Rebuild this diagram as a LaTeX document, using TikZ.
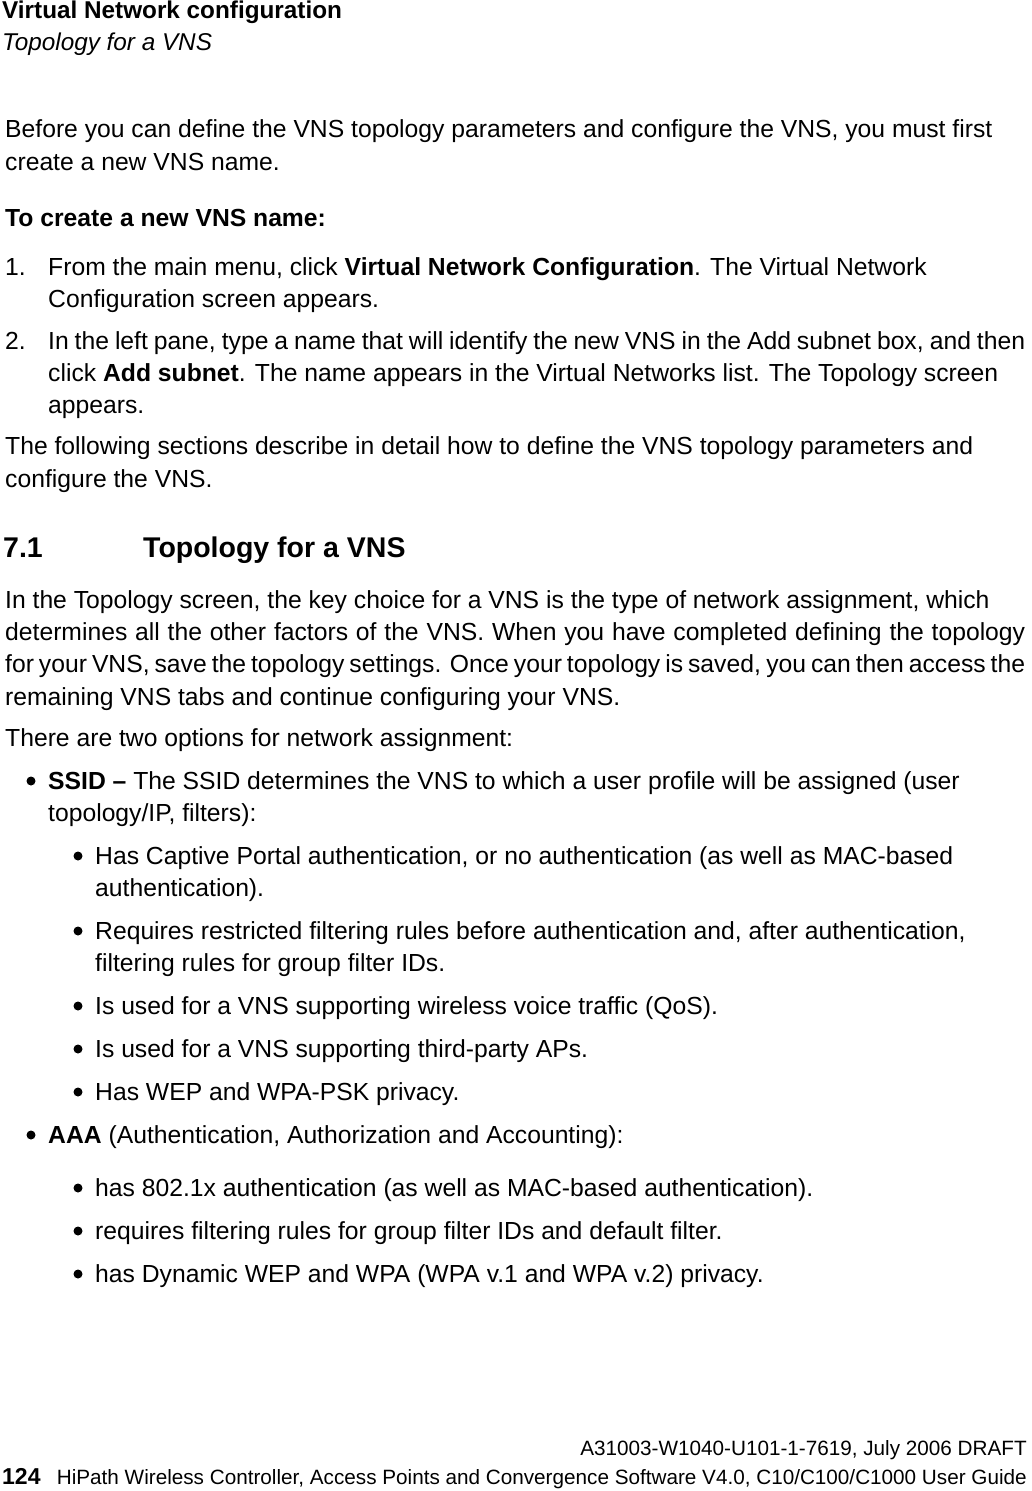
\documentclass[tikz,border=0pt]{standalone}
\usepackage{fontspec}
\setmainfont{Liberation Sans}
\newcommand\tightline[2]{\hbox to #1{\spaceskip=0.278em plus 0.1em minus 0.2em\relax #2}}
\begin{document}
\begin{tikzpicture}[x=1pt,y=-1pt,
 t/.style={anchor=base west,inner sep=0pt,font=\fontsize{24.7}{28}\selectfont},
 f/.style={anchor=base east,inner sep=0pt,font=\fontsize{20.7}{24}\selectfont},
 bul/.style={circle,fill=black,inner sep=0pt,minimum size=9pt}]
\useasboundingbox (0,0) rectangle (1031,1491);
\node[t,font=\bfseries\fontsize{24.3}{28}\selectfont] (h1) at (2,18) {Virtual Network configuration};
\node[t,font=\itshape\fontsize{24.3}{28}\selectfont] (h2) at (2,50) {Topology for a VNS};
\node[t] (p1) at (5,137) {Before you can define the VNS topology parameters and configure the VNS, you must first};
\node[t] (p2) at (5,170) {create a new VNS name.};
\node[t,font=\bfseries\fontsize{24.7}{28}\selectfont] (p3) at (5,226) {To create a new VNS name:};
\node[t] (n1) at (5,275) {1.};
\node[t] (n1a) at (48,275) {From the main menu, click \textbf{Virtual Network Configuration}. The Virtual Network};
\node[t] (n1b) at (48,307) {Configuration screen appears.};
\node[t] (n2) at (5,349) {2.};
\node[t] (n2a) at (48,349) {\tightline{977pt}{In the left pane, type a name that will identify the new VNS in the Add subnet box, and then}};
\node[t] (n2b) at (48,381) {click \textbf{Add subnet}. The name appears in the Virtual Networks list. The Topology screen};
\node[t] (n2c) at (48,413) {appears.};
\node[t] (q1) at (5,454) {The following sections describe in detail how to define the VNS topology parameters and};
\node[t] (q2) at (5,487) {configure the VNS.};
\node[t,font=\bfseries\fontsize{28.5}{32}\selectfont] (s1) at (3,557) {7.1};
\node[t,font=\bfseries\fontsize{28.5}{32}\selectfont] (s2) at (143,557) {Topology for a VNS};
\node[t] (r1) at (5,608) {In the Topology screen, the key choice for a VNS is the type of network assignment, which};
\node[t] (r2) at (5,640) {\tightline{1020pt}{determines all the other factors of the VNS. When you have completed defining the topology}};
\node[t] (r3) at (5,672) {\tightline{1020pt}{for your VNS, save the topology settings. Once your topology is saved, you can then access the}};
\node[t] (r4) at (5,705) {remaining VNS tabs and continue configuring your VNS.};
\node[t] (r5) at (5,746) {There are two options for network assignment:};
\node[bul] (b1) at (31,781) {};
\node[t] (b1a) at (48,789) {\textbf{SSID –} The SSID determines the VNS to which a user profile will be assigned (user};
\node[t] (b1b) at (48,821) {topology/IP, filters):};
\node[bul] (c1) at (78,856) {};
\node[t] (c1a) at (95,864) {Has Captive Portal authentication, or no authentication (as well as MAC-based};
\node[t] (c1b) at (95,896) {authentication).};
\node[bul] (c2) at (78,931) {};
\node[t] (c2a) at (95,939) {Requires restricted filtering rules before authentication and, after authentication,};
\node[t] (c2b) at (95,971) {filtering rules for group filter IDs.};
\node[bul] (c3) at (78,1006) {};
\node[t] (c3a) at (95,1014) {Is used for a VNS supporting wireless voice traffic (QoS).};
\node[bul] (c4) at (78,1049) {};
\node[t] (c4a) at (95,1057) {Is used for a VNS supporting third-party APs.};
\node[bul] (c5) at (78,1092) {};
\node[t] (c5a) at (95,1100) {Has WEP and WPA-PSK privacy.};
\node[bul] (b2) at (31,1135) {};
\node[t] (b2a) at (48,1143) {\textbf{AAA} (Authentication, Authorization and Accounting):};
\node[bul] (d1) at (78,1188) {};
\node[t] (d1a) at (95,1196) {has 802.1x authentication (as well as MAC-based authentication).};
\node[bul] (d2) at (78,1231) {};
\node[t] (d2a) at (95,1239) {requires filtering rules for group filter IDs and default filter.};
\node[bul] (d3) at (78,1274) {};
\node[t] (d3a) at (95,1282) {has Dynamic WEP and WPA (WPA v.1 and WPA v.2) privacy.};
\node[f] (ft1) at (1027,1455) {A31003-W1040-U101-1-7619, July 2006 DRAFT};
\node[t,font=\bfseries\fontsize{23}{26}\selectfont] (pg) at (2,1484) {124};
\node[f] (ft2) at (1027,1484) {HiPath Wireless Controller, Access Points and Convergence Software V4.0, C10/C100/C1000 User Guide};
\end{tikzpicture}
\end{document}
